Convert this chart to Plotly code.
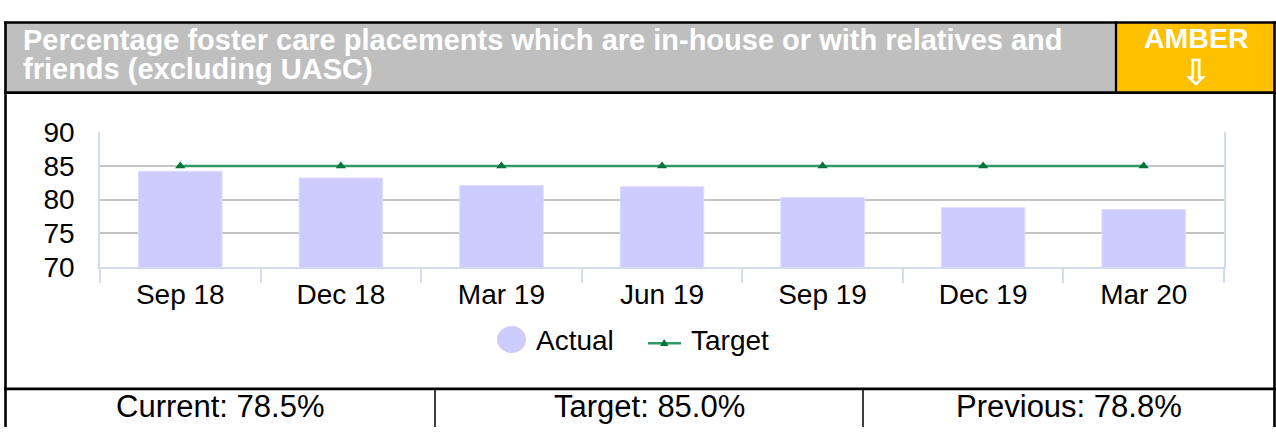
import plotly.graph_objects as go

# Quarterly indicator values
quarters = ["Sep 18", "Dec 18", "Mar 19", "Jun 19", "Sep 19", "Dec 19", "Mar 20"]
actual = [84.2, 83.2, 82.1, 81.9, 80.3, 78.8, 78.5]
target = [85, 85, 85, 85, 85, 85, 85]
y_ticks = [70, 75, 80, 85, 90]

title_lines = ["Percentage foster care placements which are in-house or with relatives and",
               "friends (excluding UASC)"]
rag_status = "AMBER"
summary = ["Current: 78.5%", "Target: 85.0%", "Previous: 78.8%"]

W, H = 1276, 443
FONT = "Liberation Sans, Arial, sans-serif"
BAR_COLOR = "#CCCCFF"
LINE_COLOR = "#339966"
MARKER_COLOR = "#00733A"
AXIS_COLOR = "#D4DAF2"
GRID_COLOR = "#C4C4C4"


def px(x):
    return x / W


def py(y):
    return 1 - y / H


fig = go.Figure()

fig.add_trace(go.Bar(
    x=quarters, y=actual, name="Actual", width=0.52,
    marker=dict(color=BAR_COLOR, line=dict(color="#DCDCFF", width=1)),
    showlegend=False,
))
fig.add_trace(go.Scatter(
    x=quarters, y=target, name="Target", mode="lines+markers",
    line=dict(color=LINE_COLOR, width=2.5),
    marker=dict(symbol="triangle-up", size=9, color=MARKER_COLOR),
    showlegend=False,
))

shapes = []
annotations = []

# Header boxes
shapes.append(dict(type="rect", xref="paper", yref="paper",
                   x0=px(5), x1=px(1116), y0=py(83), y1=py(8),
                   fillcolor="#BFBFBF", line=dict(width=0), layer="below"))
shapes.append(dict(type="rect", xref="paper", yref="paper",
                   x0=px(1116), x1=px(1275), y0=py(83), y1=py(8),
                   fillcolor="#FFC000", line=dict(width=0), layer="below"))


# Frame lines
def hline(y, x0, x1, w=2.6):
    shapes.append(dict(type="line", xref="paper", yref="paper",
                       x0=px(x0), x1=px(x1), y0=py(y), y1=py(y),
                       line=dict(color="black", width=w)))


def vline(x, y0, y1, w=2.6):
    shapes.append(dict(type="line", xref="paper", yref="paper",
                       x0=px(x), x1=px(x), y0=py(y0), y1=py(y1),
                       line=dict(color="black", width=w)))


hline(8, 4, 1276)
hline(83.5, 4, 1276)
hline(402, 4, 1276)
vline(5.5, 7, 443)
vline(1274.5, 7, 443)
vline(1116, 7, 84, 2.3)
vline(435, 402, 443, 1.5)
vline(863, 402, 443, 1.5)

# Header text
annotations.append(dict(text=title_lines[0], x=px(21), y=py(27), xref="paper", yref="paper",
                        xanchor="left", yanchor="middle", showarrow=False,
                        font=dict(family=FONT, size=29, color="white", weight="bold")))
annotations.append(dict(text=title_lines[1], x=px(21), y=py(58.5), xref="paper", yref="paper",
                        xanchor="left", yanchor="middle", showarrow=False,
                        font=dict(family=FONT, size=29, color="white", weight="bold")))
annotations.append(dict(text=rag_status, x=px(1196), y=py(25), xref="paper", yref="paper",
                        xanchor="center", yanchor="middle", showarrow=False,
                        font=dict(family=FONT, size=28.5, color="white", weight="bold")))
annotations.append(dict(text="⇩", x=px(1196), y=py(62), xref="paper", yref="paper",
                        xanchor="center", yanchor="middle", showarrow=False,
                        font=dict(family="DejaVu Sans", size=36, color="white", weight="bold")))

# Summary row
for text, cx in zip(summary, [220, 649, 1069]):
    annotations.append(dict(text=text, x=px(cx), y=py(421), xref="paper", yref="paper",
                            xanchor="center", yanchor="middle", showarrow=False,
                            font=dict(family=FONT, size=31, color="black")))

# Legend
shapes.append(dict(type="circle", xref="paper", yref="paper",
                   x0=px(497), x1=px(526), y0=py(363.5), y1=py(334.5),
                   fillcolor=BAR_COLOR, line=dict(width=0)))
annotations.append(dict(text="Actual", x=px(534), y=py(350), xref="paper", yref="paper",
                        xanchor="left", yanchor="middle", showarrow=False,
                        font=dict(family=FONT, size=28, color="black")))
shapes.append(dict(type="line", xref="paper", yref="paper",
                   x0=px(648), x1=px(681), y0=py(353), y1=py(353),
                   line=dict(color=LINE_COLOR, width=2.5)))
shapes.append(dict(type="path", xref="paper", yref="paper",
                   path=f"M {px(660)} {py(356)} L {px(668.5)} {py(356)} L {px(664.2)} {py(348.5)} Z",
                   fillcolor=MARKER_COLOR, line=dict(width=0)))
annotations.append(dict(text="Target", x=px(689), y=py(350), xref="paper", yref="paper",
                        xanchor="left", yanchor="middle", showarrow=False,
                        font=dict(family=FONT, size=28, color="black")))

fig.update_layout(
    width=W, height=H,
    margin=dict(l=0, r=0, t=0, b=0),
    paper_bgcolor="white", plot_bgcolor="white",
    showlegend=False,
    bargap=0.48,
    shapes=shapes, annotations=annotations,
    font=dict(family=FONT, size=28, color="black"),
    xaxis=dict(
        domain=[px(100), px(1224)],
        type="category",
        showline=True, linecolor=AXIS_COLOR, linewidth=1.5,
        ticks="outside", tickson="boundaries", ticklen=14,
        tickcolor=AXIS_COLOR, tickwidth=1.5,
        showgrid=False,
        ticklabelstandoff=2,
        tickfont=dict(family=FONT, size=28, color="black"),
    ),
    yaxis=dict(
        domain=[py(271), py(126)],
        range=[70, 90],
        tickvals=y_ticks,
        showline=True, mirror=True, linecolor=AXIS_COLOR, linewidth=1.5,
        showgrid=True, gridcolor=GRID_COLOR, gridwidth=1.5,
        zeroline=False,
        ticks="", ticklabelstandoff=18,
        tickfont=dict(family=FONT, size=28, color="black"),
    ),
)

fig.write_html("out.html")
